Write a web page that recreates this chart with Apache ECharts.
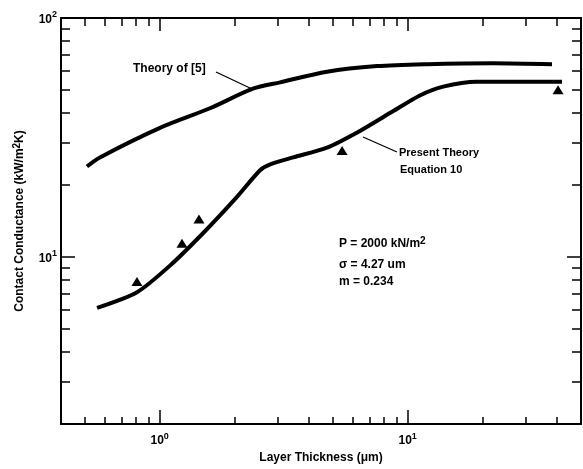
<!DOCTYPE html>
<html>
<head>
<meta charset="utf-8">
<script src="https://cdn.jsdelivr.net/npm/echarts@6/dist/echarts.min.js"></script>
<style>
  html, body { margin: 0; padding: 0; background: #fff; }
  #chart { width: 583px; height: 469px; }
</style>
</head>
<body>
<div id="chart"></div>
<script>
// Layer thickness (um) vs contact conductance (kW/m2K)
const theory5X = [0.509, 0.574, 1.003, 1.596, 2.378, 3.06, 4.73, 7.52, 11.96, 22.1, 38.2]
const theory5Y = [23.9, 26.1, 34.7, 41.9, 50.6, 53.8, 59.6, 62.9, 64.1, 64.7, 64.1]

const presentX = [0.559, 0.81, 1.10, 1.495, 2.05, 2.54, 2.79, 3.45, 4.73, 6.42, 8.72, 11.2, 13.9, 19.0, 25.8, 41.9]
const presentY = [6.12, 7.12, 9.20, 12.57, 17.85, 23.06, 24.4, 26.1, 28.7, 33.7, 40.7, 47.4, 51.6, 54.1, 54.1, 54.1]

const measuredX = [0.81, 1.23, 1.44, 5.44, 40.4]
const measuredY = [7.90, 11.4, 14.4, 27.9, 50.1]

const xMinorTicks = [0.5, 0.6, 0.7, 0.8, 0.9, 2, 3, 4, 5, 6, 7, 8, 9, 20, 30, 40]
const xMajorTicks = [1, 10]
const xLabels = [1, 10]
const yMinorTicks = [3, 4, 5, 6, 7, 8, 9, 20, 30, 40, 50, 60, 70, 80, 90]
const yMajorTicks = [10]
const yLabels = [10, 100]

const FONT = '"Liberation Sans", Arial, sans-serif'
const ink = '#000'

const chart = echarts.init(document.getElementById('chart'), null, { renderer: 'canvas' })

const zip = (xs, ys) => xs.map((x, i) => [x, ys[i]])

// 10^n with superscript via rich text
function powLabel(v) {
  const n = Math.round(Math.log10(v))
  return '{b|10}{s|' + n + '}'
}
const powRich = {
  b: { fontSize: 12, fontWeight: 'bold', fontFamily: FONT, color: ink, verticalAlign: 'bottom' },
  s: { fontSize: 9, fontWeight: 'bold', fontFamily: FONT, color: ink, verticalAlign: 'bottom', padding: [0, 0, 6, 0] },
}

function logAxis(extra) {
  return Object.assign({
    type: 'log',
    logBase: 10,
    splitLine: { show: false },
    minorTick: { show: false },
    axisLine: { show: false },
    axisLabel: { show: false },
  }, extra)
}

function ticks(values, len) {
  return { show: true, inside: true, length: len, customValues: values, lineStyle: { color: ink, width: 1.5 } }
}

const xRange = { min: 0.4, max: 50 }
const yRange = { min: 2, max: 100 }

const option = {
  animation: false,
  backgroundColor: '#fff',
  grid: { left: 61, right: 2, top: 18, bottom: 38 },
  xAxis: [
    logAxis({
      ...xRange, position: 'bottom',
      axisLine: { show: true, lineStyle: { color: ink, width: 2 } },
      axisTick: ticks(xMinorTicks, 7),
      axisLabel: { show: true, customValues: xLabels, margin: 8, formatter: powLabel, rich: powRich },
      name: 'Layer Thickness (\u03bcm)',
      nameLocation: 'middle',
      nameGap: 28,
      nameTextStyle: { fontFamily: FONT, fontSize: 12, fontWeight: 'bold', color: ink },
    }),
    logAxis({ ...xRange, position: 'bottom', axisTick: ticks(xMajorTicks, 14) }),
    logAxis({
      ...xRange, position: 'top',
      axisLine: { show: true, lineStyle: { color: ink, width: 2 } },
      axisTick: ticks(xMinorTicks, 8),
    }),
    logAxis({ ...xRange, position: 'top', axisTick: ticks(xMajorTicks, 13) }),
  ],
  yAxis: [
    logAxis({
      ...yRange, position: 'left',
      axisLine: { show: true, lineStyle: { color: ink, width: 2 } },
      axisTick: ticks(yMinorTicks, 9),
      axisLabel: { show: true, customValues: yLabels, margin: 4, formatter: powLabel, rich: powRich },
      name: 'Contact Conductance (kW/m{s|2}K)',
      nameLocation: 'middle',
      nameRotate: 90,
      nameGap: 34,
      nameTextStyle: {
        fontFamily: FONT, fontSize: 12, fontWeight: 'bold', color: ink,
        rich: { s: { fontSize: 10, fontWeight: 'bold', fontFamily: FONT, color: ink, verticalAlign: 'bottom', padding: [0, 0, 5, 0] } },
      },
    }),
    logAxis({ ...yRange, position: 'left', axisTick: ticks(yMajorTicks, 14) }),
    logAxis({
      ...yRange, position: 'right',
      axisLine: { show: true, lineStyle: { color: ink, width: 2 } },
      axisTick: ticks(yMinorTicks, 9),
    }),
    logAxis({ ...yRange, position: 'right', axisTick: ticks(yMajorTicks, 14) }),
  ],
  series: [
    {
      name: 'Theory of [5]',
      type: 'line',
      data: zip(theory5X, theory5Y),
      showSymbol: false,
      smooth: 0.3,
      lineStyle: { color: ink, width: 4 },
    },
    {
      name: 'Present Theory',
      type: 'line',
      data: zip(presentX, presentY),
      showSymbol: false,
      smooth: 0.25,
      lineStyle: { color: ink, width: 4 },
    },
    {
      name: 'Measured',
      type: 'scatter',
      data: zip(measuredX, measuredY),
      symbol: 'triangle',
      symbolSize: [11, 9],
      itemStyle: { color: ink, opacity: 1 },
    },
  ],
  graphic: [
    // labels and leader lines
    { type: 'text', left: 133, top: 63, style: { text: 'Theory of [5]', font: 'bold 12px ' + FONT, fill: ink } },
    { type: 'line', shape: { x1: 216, y1: 72, x2: 252, y2: 89 }, style: { stroke: ink, lineWidth: 1.3 } },
    { type: 'text', left: 399, top: 147, style: { text: 'Present Theory', font: 'bold 11px ' + FONT, fill: ink } },
    { type: 'text', left: 400, top: 164, style: { text: 'Equation 10', font: 'bold 11px ' + FONT, fill: ink } },
    { type: 'line', shape: { x1: 363, y1: 137, x2: 397, y2: 152 }, style: { stroke: ink, lineWidth: 1.3 } },
    {
      type: 'text', left: 339, top: 236,
      style: {
        text: 'P = 2000 kN/m{s|2}',
        font: 'bold 12px ' + FONT, fill: ink,
        rich: { s: { font: 'bold 10px ' + FONT, fill: ink, verticalAlign: 'bottom', padding: [0, 0, 5, 0] } },
      },
    },
    { type: 'text', left: 339, top: 259, style: { text: '\u03c3 = 4.27 um', font: 'bold 12px ' + FONT, fill: ink } },
    { type: 'text', left: 339, top: 276, style: { text: 'm = 0.234', font: 'bold 12px ' + FONT, fill: ink } },
  ],
}

chart.setOption(option)
</script>
</body>
</html>
